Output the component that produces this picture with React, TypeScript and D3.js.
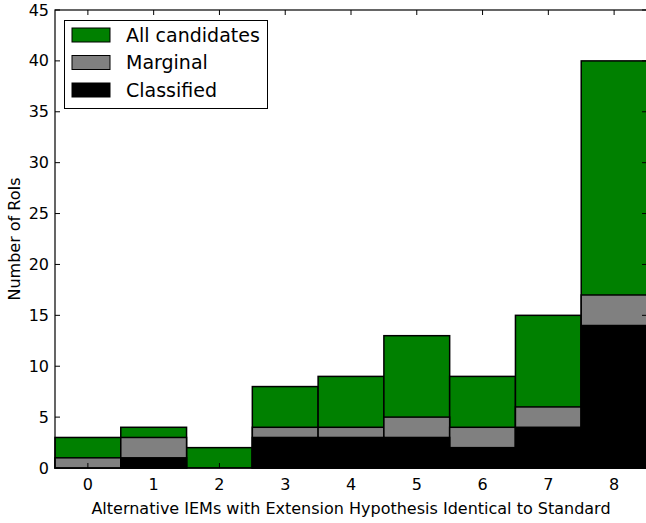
import * as d3 from "d3";
import { useEffect, useRef } from "react";

const bins = [0, 1, 2, 3, 4, 5, 6, 7, 8];
const allCandidates = [3, 4, 2, 8, 9, 13, 9, 15, 40];
const marginal = [1, 3, 0, 4, 4, 5, 4, 6, 17];
const classified = [0, 1, 0, 3, 3, 3, 2, 4, 14];
const yTicks = [0, 5, 10, 15, 20, 25, 30, 35, 40, 45];

const series = [
  { name: "All candidates", values: allCandidates, color: "#008000" },
  { name: "Marginal", values: marginal, color: "#808080" },
  { name: "Classified", values: classified, color: "#000000" },
];

export default function App() {
  const ref = useRef<SVGSVGElement>(null);
  const W = 646,
    H = 523;
  const margin = { top: 10, right: -1, bottom: 55, left: 55 };
  const width = W - margin.left - margin.right;
  const height = H - margin.top - margin.bottom;

  useEffect(() => {
    const svg = d3.select(ref.current);
    svg.selectAll("*").remove();
    const font = "DejaVu Sans, sans-serif";

    const x = d3.scaleLinear().domain([-0.5, 8.5]).range([0, width]);
    const y = d3.scaleLinear().domain([0, 45]).range([height, 0]);

    const g = svg
      .append("g")
      .attr("transform", `translate(${margin.left},${margin.top})`);

    // bars, drawn over each other like matplotlib hist
    series.forEach((s) => {
      g.append("g")
        .selectAll("rect")
        .data(bins.filter((_, i) => s.values[i] > 0))
        .join("rect")
        .attr("x", (d) => x(d - 0.5))
        .attr("width", (d) => x(d + 0.5) - x(d - 0.5))
        .attr("y", (d) => y(s.values[d]))
        .attr("height", (d) => height - y(s.values[d]))
        .attr("fill", s.color)
        .attr("stroke", "#000")
        .attr("stroke-width", 1.5);
    });

    // frame
    g.append("rect")
      .attr("width", width)
      .attr("height", height)
      .attr("fill", "none")
      .attr("stroke", "#000")
      .attr("stroke-width", 1.2);

    // inward ticks on all sides
    const tl = 5;
    const xt = g.append("g");
    bins.forEach((b) => {
      xt.append("line").attr("x1", x(b)).attr("x2", x(b)).attr("y1", height).attr("y2", height - tl).attr("stroke", "#000");
      xt.append("line").attr("x1", x(b)).attr("x2", x(b)).attr("y1", 0).attr("y2", tl).attr("stroke", "#000");
      xt.append("text")
        .attr("x", x(b))
        .attr("y", height + 22)
        .attr("text-anchor", "middle")
        .attr("font-family", font)
        .attr("font-size", 16)
        .text(b);
    });
    const yt = g.append("g");
    yTicks.forEach((t) => {
      yt.append("line").attr("x1", 0).attr("x2", tl).attr("y1", y(t)).attr("y2", y(t)).attr("stroke", "#000");
      yt.append("line").attr("x1", width).attr("x2", width - tl).attr("y1", y(t)).attr("y2", y(t)).attr("stroke", "#000");
      yt.append("text")
        .attr("x", -6)
        .attr("y", y(t))
        .attr("dy", "0.35em")
        .attr("text-anchor", "end")
        .attr("font-family", font)
        .attr("font-size", 16)
        .text(t);
    });

    // axis labels
    svg
      .append("text")
      .attr("x", margin.left + width / 2)
      .attr("y", 514)
      .attr("text-anchor", "middle")
      .attr("font-family", font)
      .attr("font-size", 16)
      .text("Alternative IEMs with Extension Hypothesis Identical to Standard");
    svg
      .append("text")
      .attr("transform", `translate(20,${margin.top + height / 2}) rotate(-90)`)
      .attr("text-anchor", "middle")
      .attr("font-family", font)
      .attr("font-size", 16)
      .text("Number of RoIs");

    // legend
    const lg = svg.append("g");
    lg.append("rect")
      .attr("x", 64.5)
      .attr("y", 20.5)
      .attr("width", 203)
      .attr("height", 88)
      .attr("fill", "#fff")
      .attr("stroke", "#000")
      .attr("stroke-width", 1);
    series.forEach((s, i) => {
      const cy = 35 + i * 27.5;
      lg.append("rect")
        .attr("x", 72)
        .attr("y", cy - 7)
        .attr("width", 38)
        .attr("height", 14)
        .attr("fill", s.color)
        .attr("stroke", "#000")
        .attr("stroke-width", 1);
      lg.append("text")
        .attr("x", 126)
        .attr("y", cy)
        .attr("dy", "0.36em")
        .attr("font-family", font)
        .attr("font-size", 19)
        .text(s.name);
    });
  }, []);

  return (
    <svg
      ref={ref}
      width={W}
      height={H}
      style={{ position: "absolute", left: 0, top: 0 }}
    />
  );
}
